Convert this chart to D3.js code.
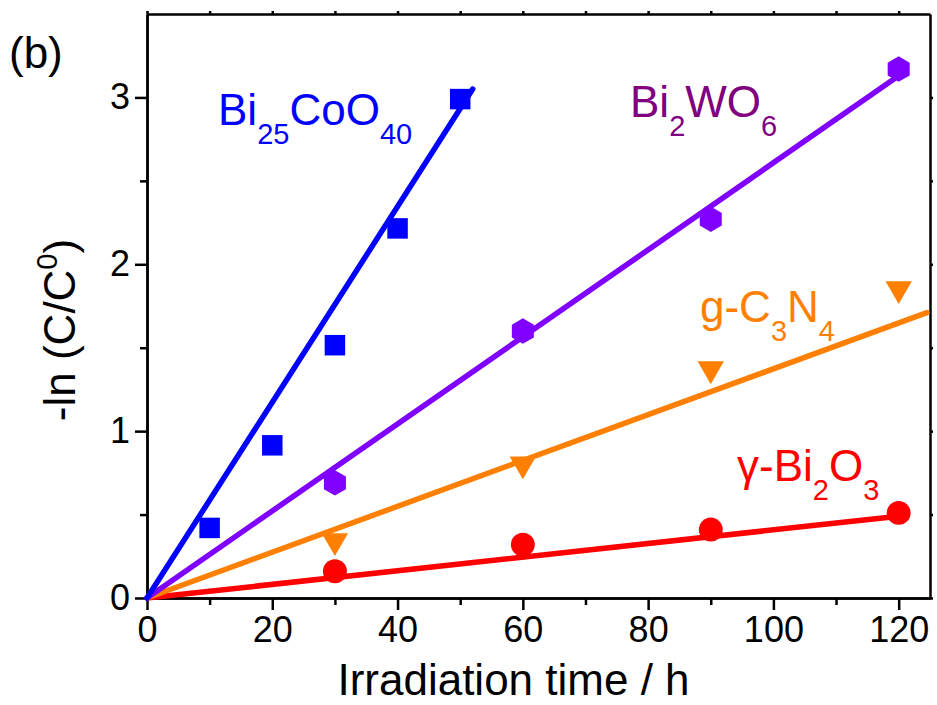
<!DOCTYPE html>
<html>
<head>
<meta charset="utf-8">
<script src="https://cdn.jsdelivr.net/npm/d3@7"></script>
<style>
  body { margin: 0; background: #fff; }
  text { font-family: Arial, "Liberation Sans", Helvetica, sans-serif; }
</style>
</head>
<body>
<div id="myPlot"></div>
<script>
// Set Dimensions
const width = 937;
const height = 705;
const margin = {top: 14, right: 7, bottom: 107, left: 147};
const xMax = width - margin.left - margin.right;
const yMax = height - margin.top - margin.bottom;

// Data: [time (h), -ln(C/C0)]
const bi25coo40 = [[10, 0.42], [20, 0.915], [30, 1.515], [40, 2.215], [50, 2.99]];
const bi2wo6 = [[30, 0.69], [60, 1.60], [90, 2.27], [120, 3.17]];
const gc3n4 = [[30, 0.32], [60, 0.78], [90, 1.35], [120, 1.83]];
const bi2o3 = [[30, 0.16], [60, 0.32], [90, 0.41], [120, 0.51]];

// Linear fits (start and end points)
const fitBi25 = [[0, 0], [52, 3.05]];
const fitBi2wo6 = [[0, 0], [120, 3.13]];
const fitGc3n4 = [[0, 0], [124.5, 1.71]];
const fitBi2o3 = [[0, 0], [120, 0.49]];

const xTicks = [0, 20, 40, 60, 80, 100, 120];
const xMinor = [10, 30, 50, 70, 90, 110];
const yTicks = [0, 1, 2, 3];
const yMinor = [0.5, 1.5, 2.5];

const svg = d3.select("#myPlot")
  .append("svg")
  .attr("width", width)
  .attr("height", height)
  .append("g")
  .attr("transform", `translate(${margin.left},${margin.top})`);

const x = d3.scaleLinear().domain([0, 125]).range([0, xMax]);
const y = d3.scaleLinear().domain([0, 3.5]).range([yMax, 0]);

// Axes: bottom/left with labels, top/right mirrored small ticks
function styleAxis(g) {
  g.select(".domain").attr("stroke", "#000").attr("stroke-width", 2.5);
  g.selectAll(".tick line").attr("stroke", "#000").attr("stroke-width", 2.5);
  g.selectAll(".tick text").style("font-size", "36px").attr("fill", "#000");
}

svg.append("g")
  .attr("transform", `translate(0,${yMax})`)
  .call(d3.axisBottom(x).tickValues(xMinor).tickSize(7).tickFormat("").tickSizeOuter(0))
  .call(styleAxis);
svg.append("g")
  .attr("transform", `translate(0,${yMax})`)
  .call(d3.axisBottom(x).tickValues(xTicks).tickSize(12).tickPadding(6).tickFormat(d3.format("d")).tickSizeOuter(0))
  .call(styleAxis);

svg.append("g")
  .call(d3.axisLeft(y).tickValues(yMinor).tickSize(7).tickFormat("").tickSizeOuter(0))
  .call(styleAxis);
svg.append("g")
  .call(d3.axisLeft(y).tickValues(yTicks).tickSize(12).tickPadding(5).tickFormat(d3.format("d")).tickSizeOuter(0))
  .call(styleAxis);

svg.append("g")
  .call(d3.axisTop(x).tickValues(xTicks.concat(xMinor)).tickSize(3).tickFormat("").tickSizeOuter(0))
  .call(styleAxis);
svg.append("g")
  .attr("transform", `translate(${xMax},0)`)
  .call(d3.axisRight(y).tickValues(yTicks.concat(yMinor)).tickSize(3).tickFormat("").tickSizeOuter(0))
  .call(styleAxis);

// Fit lines
const line = d3.line().x(d => x(d[0])).y(d => y(d[1]));
const fits = [
  {data: fitBi2o3, color: "#ff0000"},
  {data: fitGc3n4, color: "#ff8000"},
  {data: fitBi2wo6, color: "#8000ff"},
  {data: fitBi25, color: "#0000ff"}
];
fits.forEach(f => {
  svg.append("path")
    .datum(f.data)
    .attr("d", line)
    .attr("fill", "none")
    .attr("stroke", f.color)
    .attr("stroke-width", 5.5)
    .attr("stroke-linecap", "round");
});

// Markers
const hexagon = {
  draw(ctx, size) {
    const r = Math.sqrt(size * 2 / (3 * Math.sqrt(3)));
    for (let i = 0; i < 6; i++) {
      const a = Math.PI / 2 + i * Math.PI / 3;
      const px = r * Math.cos(a), py = r * Math.sin(a);
      if (i === 0) ctx.moveTo(px, py); else ctx.lineTo(px, py);
    }
    ctx.closePath();
  }
};
const downTriangle = {
  draw(ctx, size) {
    const s = Math.sqrt(size / (Math.sqrt(3) / 4));
    const h = s * Math.sqrt(3) / 2;
    ctx.moveTo(-s / 2, -h / 2);
    ctx.lineTo(s / 2, -h / 2);
    ctx.lineTo(0, h / 2);
    ctx.closePath();
  }
};

const series = [
  {data: bi2o3, color: "#ff0000", type: d3.symbolCircle, size: 450},
  {data: gc3n4, color: "#ff8000", type: downTriangle, size: 300},
  {data: bi2wo6, color: "#8000ff", type: hexagon, size: 420},
  {data: bi25coo40, color: "#0000ff", type: d3.symbolSquare, size: 420}
];
series.forEach(s => {
  svg.append("g")
    .selectAll("path")
    .data(s.data)
    .enter()
    .append("path")
    .attr("transform", d => `translate(${x(d[0])},${y(d[1])})`)
    .attr("d", d3.symbol().type(s.type).size(s.size))
    .attr("fill", s.color);
});

// Series labels with sub-scripts
function chemLabel(parts, px, py, color) {
  const t = svg.append("text")
    .attr("x", px)
    .attr("y", py)
    .attr("fill", color)
    .style("font-size", "44px");
  let shifted = 0;
  parts.forEach(p => {
    const sub = p[1];
    const dy = sub ? 19 - shifted : -shifted;
    t.append("tspan")
      .attr("dy", dy)
      .style("font-size", sub ? "29px" : "44px")
      .text(p[0]);
    shifted = sub ? 19 : 0;
  });
}
chemLabel([["Bi", 0], ["25", 1], ["CoO", 0], ["40", 1]], 218 - margin.left, 125 - margin.top, "#0000ff");
chemLabel([["Bi", 0], ["2", 1], ["WO", 0], ["6", 1]], 630 - margin.left, 117 - margin.top, "#800080");
chemLabel([["g-C", 0], ["3", 1], ["N", 0], ["4", 1]], 700 - margin.left, 322 - margin.top, "#ff8000");
chemLabel([["\u03b3-Bi", 0], ["2", 1], ["O", 0], ["3", 1]], 737 - margin.left, 481 - margin.top, "#ff0000");

// Axis titles
svg.append("text")
  .attr("x", xMax / 2 - 25)
  .attr("y", yMax + 97)
  .attr("text-anchor", "middle")
  .style("font-size", "44px")
  .attr("fill", "#000")
  .text("Irradiation time / h");

const yLabel = svg.append("text")
  .attr("transform", `translate(${75 - margin.left},${330 - margin.top}) rotate(-90)`)
  .attr("text-anchor", "middle")
  .style("font-size", "44px")
  .attr("fill", "#000");
yLabel.append("tspan").text("-ln (C/C");
yLabel.append("tspan").attr("dy", -18).style("font-size", "29px").text("0");
yLabel.append("tspan").attr("dy", 18).text(")");

// Panel label
svg.append("text")
  .attr("x", 9 - margin.left)
  .attr("y", 68 - margin.top)
  .style("font-size", "44px")
  .attr("fill", "#000")
  .text("(b)");
</script>
</body>
</html>
